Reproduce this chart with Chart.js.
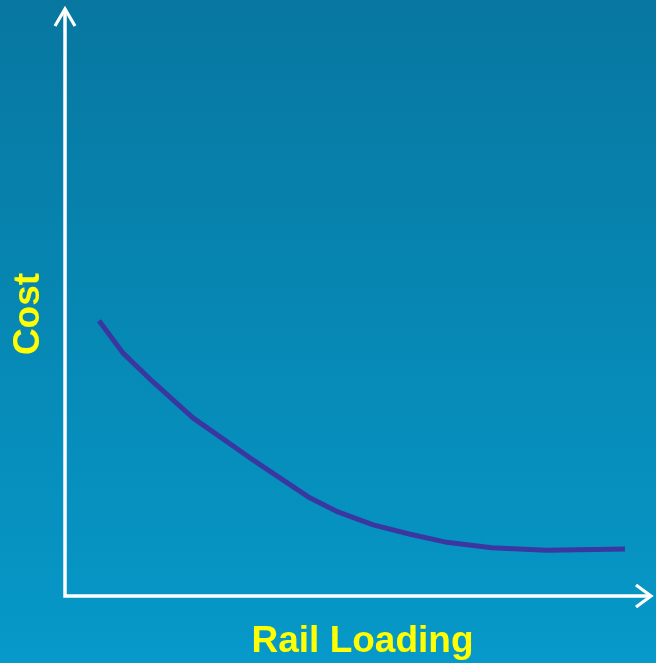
<!DOCTYPE html>
<html>
<head>
<meta charset="utf-8">
<title>Cost vs Rail Loading</title>
<script src="https://cdn.jsdelivr.net/npm/chart.js@4/dist/chart.umd.min.js"></script>
<style>
  html, body { margin: 0; padding: 0; background: #0a88b4; }
  #wrap { position: relative; width: 656px; height: 663px; }
</style>
</head>
<body>
<div id="wrap"><canvas id="c" width="656" height="663"></canvas></div>
<script>
// Rail loading (x) and resulting cost (y), in arbitrary units 0..10
const railLoading = [0.58, 0.99, 1.50, 2.18, 3.15, 4.17, 4.65, 5.25, 5.88, 6.47, 7.27, 8.21, 9.54];
const costValues  = [4.68, 4.13, 3.64, 3.03, 2.35, 1.67, 1.43, 1.21, 1.05, 0.92, 0.82, 0.78, 0.80];
const xTitle = 'Rail Loading';
const yTitle = 'Cost';

const points = railLoading.map((x, i) => ({ x: x, y: costValues[i] }));

// Vertical blue gradient behind everything
const backdrop = {
  id: 'backdrop',
  beforeDraw(chart) {
    const { ctx, width, height } = chart;
    const g = ctx.createLinearGradient(0, 0, 0, height);
    g.addColorStop(0, '#0777a0');
    g.addColorStop(1, '#0699c9');
    ctx.save();
    ctx.fillStyle = g;
    ctx.fillRect(0, 0, width, height);
    ctx.restore();
  }
};

// White arrowed axes along the left and bottom of the plot area, plus yellow titles
const arrowAxes = {
  id: 'arrowAxes',
  beforeDatasetsDraw(chart) {
    const { ctx, chartArea: a } = chart;
    const ox = a.left, oy = a.bottom;
    ctx.save();
    ctx.strokeStyle = '#ffffff';
    ctx.lineWidth = 3.5;
    ctx.lineCap = 'butt';
    ctx.lineJoin = 'miter';
    // axis lines
    ctx.beginPath();
    ctx.moveTo(ox, a.top + 1);
    ctx.lineTo(ox, oy);
    ctx.lineTo(a.right - 1, oy);
    ctx.stroke();
    // arrow heads
    ctx.lineWidth = 3.2;
    ctx.beginPath();
    ctx.moveTo(ox - 10, a.top + 18);
    ctx.lineTo(ox, a.top + 1);
    ctx.lineTo(ox + 10, a.top + 18);
    ctx.moveTo(a.right - 16, oy - 11);
    ctx.lineTo(a.right - 1, oy);
    ctx.lineTo(a.right - 16, oy + 11);
    ctx.stroke();

    // titles
    ctx.fillStyle = '#ffff00';
    ctx.font = 'bold 37px "Liberation Sans", Arial, sans-serif';
    ctx.textAlign = 'center';
    ctx.textBaseline = 'alphabetic';
    ctx.fillText(xTitle, (a.left + a.right) / 2 + 4, oy + 56);
    ctx.translate(39, 314);
    ctx.rotate(-Math.PI / 2);
    ctx.fillText(yTitle, 0, 0);
    ctx.restore();
  }
};

new Chart(document.getElementById('c'), {
  type: 'line',
  data: {
    datasets: [{
      data: points,
      borderColor: '#3a37a0',
      borderWidth: 5,
      borderJoinStyle: 'round',
      borderCapStyle: 'butt',
      tension: 0,
      pointRadius: 0,
      fill: false
    }]
  },
  options: {
    responsive: false,
    animation: false,
    layout: { padding: { left: 65, top: 8, right: 4, bottom: 67 } },
    scales: {
      x: { type: 'linear', min: 0, max: 10, display: false },
      y: { type: 'linear', min: 0, max: 10, display: false }
    },
    plugins: {
      legend: { display: false },
      tooltip: { enabled: false },
      title: { display: false }
    }
  },
  plugins: [backdrop, arrowAxes]
});
</script>
</body>
</html>
